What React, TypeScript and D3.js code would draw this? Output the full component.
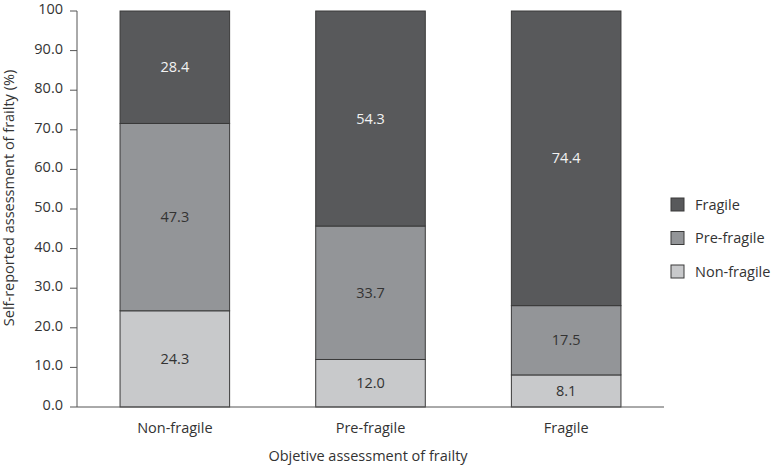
import React, { useRef, useEffect } from 'react';
import * as d3 from 'd3';

const groups = ['Non-fragile', 'Pre-fragile', 'Fragile'];
const seriesNames = ['Non-fragile', 'Pre-fragile', 'Fragile'];
const nonFragile = [24.3, 12.0, 8.1];
const preFragile = [47.3, 33.7, 17.5];
const fragile = [28.4, 54.3, 74.4];
const yTicks = [0, 10, 20, 30, 40, 50, 60, 70, 80, 90, 100];
const colors = ['#c8c9cb', '#939598', '#58595b'];

const W = 771;
const H = 466;

export default function App() {
  const svgRef = useRef<SVGSVGElement>(null);

  useEffect(() => {
    const svg = d3.select(svgRef.current);
    svg.selectAll('*').remove();

    const font = '"Open Sans", sans-serif';
    const fs = 14.5;
    const x = d3.scaleBand().domain(groups).range([77, 664]).paddingInner(0.44).paddingOuter(0.22);
    const y = d3.scaleLinear().domain([0, 100]).range([407, 11]);

    const rows = groups.map((g, i) => ({
      group: g,
      'Non-fragile': nonFragile[i],
      'Pre-fragile': preFragile[i],
      Fragile: fragile[i],
    }));
    const stacked = d3.stack<any>().keys(seriesNames)(rows);

    const g = svg.append('g');

    // segments
    stacked.forEach((layer, li) => {
      g.selectAll(null)
        .data(layer)
        .join('rect')
        .attr('x', (d: any) => x(d.data.group)!)
        .attr('width', x.bandwidth())
        .attr('y', (d) => y(d[1]))
        .attr('height', (d) => y(d[0]) - y(d[1]))
        .attr('fill', colors[li])
        .attr('stroke', '#3a3a3a')
        .attr('stroke-width', 1);

      g.selectAll(null)
        .data(layer)
        .join('text')
        .attr('x', (d: any) => x(d.data.group)! + x.bandwidth() / 2)
        .attr('y', (d) => (y(d[0]) + y(d[1])) / 2)
        .attr('dy', '0.35em')
        .attr('text-anchor', 'middle')
        .attr('font-family', font)
        .attr('font-size', fs)
        .attr('fill', li === 2 ? '#f2f2f2' : '#333')
        .text((d) => (d[1] - d[0]).toFixed(1));
    });

    // y axis
    g.append('line')
      .attr('x1', 77).attr('x2', 77)
      .attr('y1', y(100)).attr('y2', y(0))
      .attr('stroke', '#555');
    g.selectAll(null)
      .data(yTicks)
      .join('line')
      .attr('x1', 70).attr('x2', 77)
      .attr('y1', (d) => y(d)).attr('y2', (d) => y(d))
      .attr('stroke', '#555');
    g.selectAll(null)
      .data(yTicks)
      .join('text')
      .attr('x', 63)
      .attr('y', (d) => y(d))
      .attr('dy', '0.2em')
      .attr('text-anchor', 'end')
      .attr('font-family', font)
      .attr('font-size', fs)
      .attr('fill', '#333')
      .text((d) => (d === 100 ? '100' : d.toFixed(1)));

    // baseline
    g.append('line')
      .attr('x1', 77).attr('x2', 664)
      .attr('y1', y(0)).attr('y2', y(0))
      .attr('stroke', '#555');

    // x labels
    g.selectAll(null)
      .data(groups)
      .join('text')
      .attr('x', (d) => x(d)! + x.bandwidth() / 2)
      .attr('y', 433)
      .attr('text-anchor', 'middle')
      .attr('font-family', font)
      .attr('font-size', fs)
      .attr('fill', '#333')
      .text((d) => d);

    g.append('text')
      .attr('x', 368)
      .attr('y', 461)
      .attr('text-anchor', 'middle')
      .attr('font-family', font)
      .attr('font-size', fs)
      .attr('fill', '#333')
      .text('Objetive assessment of frailty');

    g.append('text')
      .attr('transform', 'translate(14,198) rotate(-90)')
      .attr('text-anchor', 'middle')
      .attr('font-family', font)
      .attr('font-size', fs)
      .attr('fill', '#333')
      .text('Self-reported assessment of frailty (%)');

    // legend
    const legendOrder = [2, 1, 0];
    const lg = g.append('g').attr('transform', 'translate(671,198)');
    legendOrder.forEach((si, i) => {
      lg.append('rect')
        .attr('x', 0)
        .attr('y', i * 33.5)
        .attr('width', 13)
        .attr('height', 13)
        .attr('fill', colors[si])
        .attr('stroke', '#3a3a3a');
      lg.append('text')
        .attr('x', 24)
        .attr('y', i * 33.5 + 6.5)
        .attr('dy', '0.35em')
        .attr('font-family', font)
        .attr('font-size', fs)
        .attr('fill', '#333')
        .text(seriesNames[si]);
    });
  }, []);

  return (
    <div style={{ position: 'fixed', left: 0, top: 0, width: W, height: H, overflow: 'hidden' }}>
      <svg ref={svgRef} width={W} height={H} style={{ display: 'block', background: '#fff' }} />
    </div>
  );
}
